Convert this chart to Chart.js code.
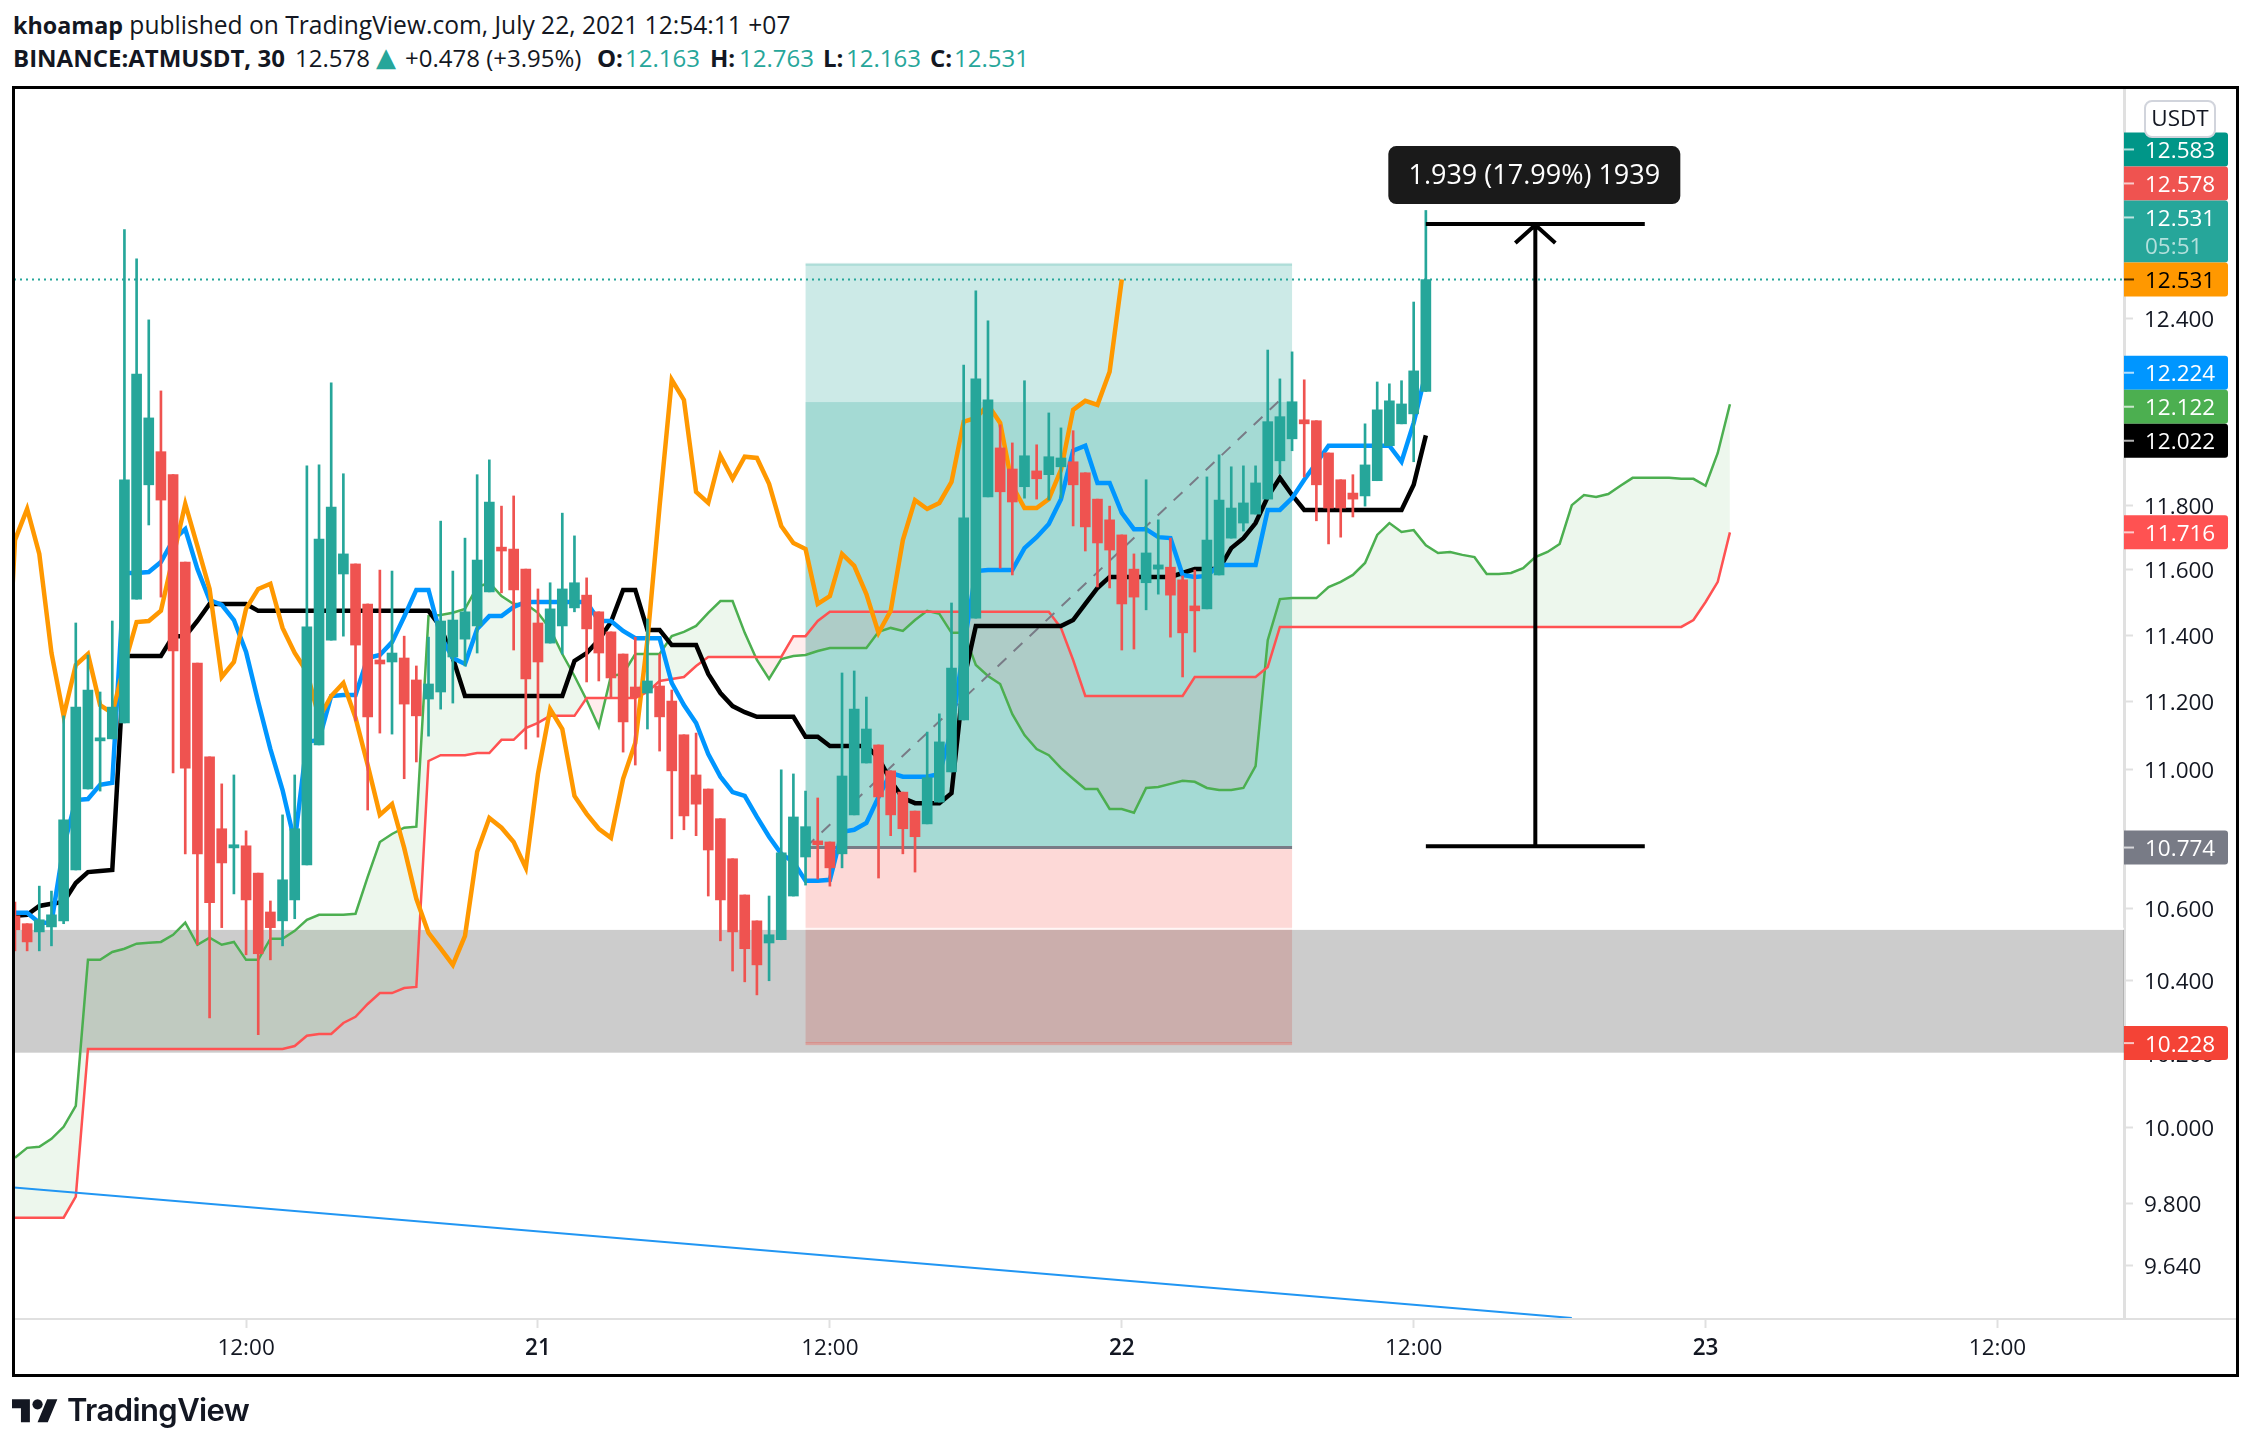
<!DOCTYPE html>
<html lang="en">
<head>
    <meta charset="UTF-8">
    <title>BINANCE:ATMUSDT, 30</title>
    <script src="https://cdn.jsdelivr.net/npm/chart.js"></script>
    <style>
        body { margin: 0; background: #fff; font-family: "Open Sans", sans-serif; color: #131722; }
        #wrap { position: relative; width: 2250px; height: 1448px; overflow: hidden; }
        #chart { position: absolute; left: 0; top: 0; }
        .title { position: absolute; font-size: 24px; line-height: 30px; white-space: nowrap; }
        .up { color: #26a69a; }
        .strong { font-weight: 700; }
        #frame { position: absolute; left: 12px; top: 86px; width: 2227px; height: 1291px; border: 3px solid #000; box-sizing: border-box; pointer-events: none; }
        #logo { position: absolute; left: 12px; top: 1394px; width: 46px; height: 36px; fill: #131722; }
        #brand { position: absolute; left: 67px; top: 1390px; font-family: Inter, sans-serif; font-weight: 600; font-size: 31px; line-height: 40px; letter-spacing: -0.6px; }
    </style>
</head>
<body>
<div id="wrap">
    <div class="title" style="top:10px;left:13px;font-size:24.6px"><b style="font-size:23.3px">khoamap</b> published on TradingView.com, July 22, 2021 12:54:11 +07</div>
    <!-- second header line, pieces placed one by one -->
    <div class="title strong" style="top:43px;left:13px">BINANCE:ATMUSDT, 30</div>
    <div class="title" style="top:43px;left:295px">12.578</div>
    <div class="title up" style="top:42px;left:376px;font-family:'DejaVu Sans';font-size:26px">▲</div>
    <div class="title" style="top:43px;left:405px">+0.478 (+3.95%)</div>
    <div class="title strong" style="top:43px;left:597px">O:</div>
    <div class="title up" style="top:43px;left:625px">12.163</div>
    <div class="title strong" style="top:43px;left:710px">H:</div>
    <div class="title up" style="top:43px;left:739px">12.763</div>
    <div class="title strong" style="top:43px;left:823px">L:</div>
    <div class="title up" style="top:43px;left:846px">12.163</div>
    <div class="title strong" style="top:43px;left:930px">C:</div>
    <div class="title up" style="top:43px;left:954px">12.531</div>
    <canvas id="chart" width="2250" height="1448"></canvas>
    <div id="frame"></div>
    <svg id="logo" viewBox="0 0 36 28"><path d="M14 22H7V11H0V4h14v18zM28 22h-8l7.5-18h8L28 22z"/><circle cx="20" cy="8" r="4"/></svg>
    <div id="brand">TradingView</div>
</div>

<script>
    // candles, one per 30 min bar
    const opens = [10.580,10.558,10.535,10.549,10.566,10.710,10.943,11.084,11.090,11.137,
        11.510,11.865,11.970,11.897,11.624,11.316,11.037,10.828,10.773,10.779,
        10.701,10.591,10.566,10.625,10.724,11.072,11.385,11.587,11.618,11.495,
        11.325,11.319,11.331,11.265,11.208,11.229,11.334,11.388,11.428,11.532,
        11.670,11.664,11.602,11.437,11.376,11.428,11.483,11.522,11.471,11.410,
        11.343,11.244,11.226,11.247,11.202,11.102,10.984,10.943,10.857,10.742,
        10.639,10.566,10.504,10.513,10.636,10.747,10.793,10.790,10.756,10.868,
        11.019,11.072,10.996,10.934,10.879,10.842,10.905,10.993,11.146,11.452,
        11.827,11.982,11.915,11.859,11.909,11.897,11.922,11.938,11.903,11.820,
        11.755,11.708,11.602,11.560,11.602,11.608,11.569,11.489,11.480,11.584,
        11.698,11.745,11.773,11.820,11.941,12.011,12.072,12.069,11.966,11.881,
        11.839,11.830,11.878,11.989,12.059,12.091,12.163];
    const highs = [10.619,10.558,10.664,10.650,11.158,11.437,11.340,11.229,11.443,12.698,
        12.600,12.397,12.165,11.897,11.624,11.316,11.037,10.958,10.984,10.822,
        10.701,10.622,10.868,10.984,11.925,11.928,12.191,11.900,11.618,11.495,
        11.599,11.596,11.397,11.307,11.394,11.751,11.596,11.698,11.897,11.944,
        11.798,11.830,11.602,11.541,11.560,11.776,11.705,11.575,11.471,11.410,
        11.343,11.394,11.449,11.343,11.235,11.102,11.107,10.943,10.857,10.742,
        10.639,10.566,10.636,10.999,10.987,10.937,10.917,10.790,11.286,11.292,
        11.214,11.072,10.996,10.934,10.879,11.110,11.164,11.498,12.249,12.493,
        12.394,12.056,11.998,12.198,11.992,12.094,12.046,12.037,11.903,11.820,
        11.798,11.708,11.649,11.881,11.755,11.698,11.581,11.599,11.890,11.960,
        11.922,11.925,11.925,12.298,12.204,12.292,12.201,12.069,11.966,11.881,
        11.897,12.059,12.194,12.188,12.198,12.456,12.763];
    const lows = [10.482,10.482,10.482,10.496,10.558,10.710,10.943,10.937,11.090,11.137,
        11.510,11.739,11.516,10.990,10.756,10.499,10.297,10.547,10.642,10.471,
        10.251,10.457,10.496,10.572,10.724,11.072,11.385,11.397,11.143,10.882,
        11.107,11.104,10.973,11.022,11.098,11.178,11.196,11.307,11.346,11.532,
        11.529,11.355,11.060,11.095,11.376,11.343,11.471,11.259,11.262,11.214,
        11.051,11.013,11.119,11.054,10.799,10.825,10.808,10.636,10.510,10.426,
        10.396,10.360,10.399,10.513,10.636,10.667,10.684,10.664,10.716,10.868,
        11.019,10.687,10.808,10.756,10.704,10.842,10.905,10.993,11.146,11.452,
        11.827,11.605,11.584,11.823,11.820,11.817,11.823,11.736,11.658,11.547,
        11.544,11.355,11.358,11.477,11.525,11.394,11.274,11.349,11.480,11.584,
        11.698,11.720,11.773,11.820,11.900,11.973,11.890,11.752,11.680,11.701,
        11.764,11.798,11.878,11.989,12.059,11.938,12.163];
    const closes = [10.541,10.507,10.569,10.583,10.854,11.184,11.235,11.093,11.184,11.881,
        12.220,12.078,11.817,11.352,11.004,10.756,10.617,10.730,10.782,10.625,
        10.474,10.547,10.682,10.828,11.425,11.695,11.795,11.649,11.370,11.155,
        11.313,11.346,11.193,11.158,11.253,11.443,11.446,11.471,11.630,11.811,
        11.658,11.538,11.268,11.319,11.480,11.541,11.560,11.419,11.346,11.271,
        11.140,11.214,11.262,11.155,10.996,10.865,10.899,10.767,10.625,10.535,
        10.488,10.443,10.527,10.759,10.862,10.834,10.782,10.716,10.981,11.178,
        11.119,10.920,10.868,10.828,10.805,10.976,11.081,11.301,11.761,12.204,
        12.136,11.843,11.811,11.957,11.884,11.954,11.950,11.865,11.733,11.683,
        11.661,11.495,11.516,11.652,11.615,11.522,11.407,11.474,11.692,11.817,
        11.792,11.808,11.871,12.066,12.082,12.130,12.059,11.865,11.792,11.792,
        11.820,11.928,12.104,12.133,12.123,12.230,12.531];

    // indicator lines
    const blueLine = [10.589,10.589,10.561,10.561,10.776,10.911,10.914,10.955,10.961,11.590,
        11.590,11.593,11.624,11.692,11.726,11.602,11.507,11.492,11.446,11.349,
        11.199,11.060,10.940,10.790,11.081,11.087,11.217,11.220,11.220,11.331,
        11.340,11.379,11.456,11.538,11.538,11.397,11.331,11.313,11.419,11.458,
        11.458,11.486,11.501,11.501,11.501,11.501,11.501,11.501,11.443,11.443,
        11.413,11.391,11.391,11.391,11.256,11.190,11.137,11.045,10.979,10.934,
        10.923,10.862,10.805,10.756,10.733,10.679,10.679,10.682,10.819,10.825,
        10.845,10.920,10.990,10.979,10.979,10.979,10.987,11.116,11.361,11.596,
        11.599,11.599,11.599,11.667,11.701,11.742,11.820,11.973,11.989,11.871,
        11.871,11.777,11.726,11.726,11.701,11.698,11.584,11.578,11.581,11.615,
        11.615,11.615,11.615,11.786,11.786,11.823,11.881,11.934,11.989,11.989,
        11.989,11.989,11.989,11.989,11.938,12.062,12.224];
    const blackLine = [10.580,10.583,10.608,10.614,10.619,10.673,10.704,10.707,10.710,11.337,
        11.337,11.337,11.337,11.397,11.397,11.443,11.495,11.495,11.495,11.495,
        11.474,11.474,11.474,11.474,11.474,11.474,11.474,11.474,11.474,11.474,
        11.474,11.474,11.474,11.474,11.474,11.425,11.331,11.217,11.217,11.217,
        11.217,11.217,11.217,11.217,11.217,11.217,11.322,11.346,11.385,11.440,
        11.538,11.538,11.416,11.416,11.370,11.370,11.370,11.283,11.226,11.187,
        11.169,11.155,11.155,11.155,11.155,11.096,11.096,11.069,11.069,11.069,
        11.069,11.034,10.967,10.917,10.902,10.902,10.902,10.931,11.262,11.428,
        11.428,11.428,11.428,11.428,11.428,11.428,11.428,11.446,11.495,11.544,
        11.578,11.578,11.578,11.578,11.578,11.578,11.590,11.602,11.602,11.602,
        11.667,11.698,11.745,11.827,11.887,11.833,11.786,11.786,11.786,11.786,
        11.786,11.786,11.786,11.786,11.786,11.865,12.022];
    // orange starts one bar left of the visible range
    const orangeLine = [10.982,11.692,11.789,11.649,11.346,11.158,11.310,11.343,11.190,11.166,11.310,
        11.440,11.443,11.474,11.639,11.805,11.673,11.541,11.274,11.319,11.480,
        11.541,11.557,11.422,11.346,11.289,11.152,11.217,11.256,11.152,11.013,
        10.868,10.899,10.773,10.628,10.532,10.488,10.443,10.524,10.762,10.859,
        10.831,10.790,10.716,10.987,11.178,11.119,10.923,10.871,10.828,10.802,
        10.973,11.078,11.385,11.798,12.201,12.136,11.843,11.808,11.957,11.884,
        11.954,11.950,11.868,11.736,11.683,11.664,11.495,11.519,11.649,11.612,
        11.525,11.407,11.474,11.692,11.817,11.789,11.808,11.874,12.066,12.078,
        12.120,12.062,11.862,11.792,11.792,11.820,11.912,12.104,12.133,12.120,
        12.227,12.531];
    const cloudGreen = [9.921,9.947,9.950,9.971,10.003,10.059,10.457,10.457,10.479,10.488,
        10.502,10.505,10.507,10.527,10.561,10.499,10.519,10.499,10.507,10.457,
        10.457,10.516,10.516,10.538,10.569,10.583,10.583,10.583,10.586,10.690,
        10.790,10.813,10.831,10.834,11.458,11.461,11.468,11.480,11.547,11.560,
        11.519,11.495,11.495,11.468,11.419,11.343,11.277,11.205,11.125,11.277,
        11.283,11.343,11.343,11.343,11.397,11.410,11.428,11.468,11.504,11.504,
        11.407,11.325,11.268,11.328,11.337,11.340,11.352,11.361,11.361,11.361,
        11.361,11.410,11.422,11.413,11.446,11.474,11.465,11.407,11.407,11.310,
        11.277,11.253,11.163,11.101,11.060,11.042,11.004,10.973,10.943,10.943,
        10.885,10.885,10.874,10.946,10.949,10.958,10.967,10.964,10.946,10.940,
        10.940,10.946,11.010,11.385,11.510,11.513,11.513,11.513,11.547,11.563,
        11.584,11.621,11.708,11.745,11.717,11.723,11.676,11.652,11.655,11.646,
        11.639,11.587,11.587,11.590,11.605,11.639,11.655,11.680,11.801,11.833,
        11.827,11.836,11.862,11.887,11.887,11.887,11.887,11.884,11.884,11.862,
        11.966,12.122];
    const cloudRed = [9.764,9.764,9.764,9.764,9.764,9.819,10.212,10.212,10.212,10.212,
        10.212,10.212,10.212,10.212,10.212,10.212,10.212,10.212,10.212,10.212,
        10.212,10.212,10.212,10.220,10.248,10.253,10.253,10.283,10.300,10.335,
        10.365,10.365,10.379,10.382,11.025,11.042,11.042,11.042,11.048,11.048,
        11.087,11.087,11.122,11.137,11.158,11.158,11.158,11.211,11.211,11.211,
        11.211,11.211,11.229,11.262,11.268,11.274,11.307,11.334,11.334,11.334,
        11.334,11.334,11.334,11.334,11.397,11.397,11.443,11.471,11.471,11.471,
        11.471,11.471,11.471,11.471,11.471,11.471,11.471,11.471,11.471,11.471,
        11.471,11.471,11.471,11.471,11.471,11.471,11.422,11.325,11.217,11.217,
        11.217,11.217,11.217,11.217,11.217,11.217,11.217,11.274,11.274,11.274,
        11.274,11.274,11.274,11.304,11.425,11.425,11.425,11.425,11.425,11.425,
        11.425,11.425,11.425,11.425,11.425,11.425,11.425,11.425,11.425,11.425,
        11.425,11.425,11.425,11.425,11.425,11.425,11.425,11.425,11.425,11.425,
        11.425,11.425,11.425,11.425,11.425,11.425,11.425,11.425,11.446,11.501,
        11.563,11.716];

    // drawings on the chart
    const trendIdx = [-1, 128];
    const trendVal = [9.845, 9.507];
    const lastPrice = 12.531;
    const zoneVal = [10.541, 10.202];
    const posIdx = [65, 105];
    const posVal = [12.583, 12.129, 10.774, 10.228];
    const posPathIdx = [65, 104, 104.6];
    const posPathVal = [10.774, 12.135, 12.129];
    const measureIdx = [116, 125, 134];
    const measureVal = [12.717, 10.778];
    const measureText = '1.939 (17.99%) 1939';

    // axes
    const priceMin = 9.5045;
    const priceMax = 13.182;
    const barMin = -0.08;
    const barMax = 173.4;
    const priceTicks = [12.4, 11.8, 11.6, 11.4, 11.2, 11.0, 10.8, 10.6, 10.4, 10.2, 10.0, 9.8, 9.64];
    const timeTicks = [19, 43, 67, 91, 115, 139, 163];
    const timeLabels = ['12:00', '21', '12:00', '22', '12:00', '23', '12:00'];

    // price scale labels, top to bottom. the orange one stays on its price, those above stack on it
    const labelVal = [12.583, 12.578, 12.531, 12.531, 12.224, 12.122, 12.022, 11.716, 10.774, 10.228];
    const labelBg = ['#009688', '#ef5350', '#26a69a', '#ff9800', '#0096ff', '#4caf50', '#000000', '#ff5252', '#787b86', '#f44336'];
    const labelFg = ['#fff', '#fff', '#fff', '#000', '#fff', '#fff', '#fff', '#fff', '#fff', '#fff'];
    const countdownLabel = 2;
    const countdownText = '05:51';
    const stackAnchor = 3;

    const UP = '#26a69a';
    const DOWN = '#ef5350';
    const FONT = '"Open Sans", sans-serif';

    function linePoints(values, start) {
        return values.map((v, i) => ({ x: i + start, y: v }));
    }

    function lineSet(values, start, color, width, extra) {
        return Object.assign({
            type: 'line',
            data: linePoints(values, start),
            borderColor: color,
            borderWidth: width,
            pointRadius: 0,
            tension: 0,
            fill: false,
            order: 5
        }, extra || {});
    }

    const candleColor = ctx => (closes[ctx.dataIndex] >= opens[ctx.dataIndex] ? UP : DOWN);

    const drawings = {
        id: 'drawings',
        beforeDraw(chart) {
            // tick text sits a touch below the mark in the original
            chart.scales.y.getLabelItems(chart.chartArea).forEach(item => {
                if (!item.shifted) { item.options.translation[1] += 2; item.shifted = true; }
            });
        },
        beforeDatasetsDraw(chart) {
            const { ctx, chartArea: a, scales: { x, y } } = chart;
            const px0 = x.getPixelForValue(posIdx[0]), px1 = x.getPixelForValue(posIdx[1]);
            const rect = (top, bottom, fill) => {
                ctx.fillStyle = fill;
                ctx.fillRect(px0, y.getPixelForValue(top), px1 - px0, y.getPixelForValue(bottom) - y.getPixelForValue(top));
            };
            ctx.save();
            // long position box
            rect(posVal[0], posVal[2], 'rgba(0,150,136,0.2)');
            rect(posVal[1], posVal[2], 'rgba(0,150,136,0.2)');
            rect(posVal[2], posVal[3], 'rgba(244,67,54,0.2)');
            // support zone
            const zt = y.getPixelForValue(zoneVal[0]), zb = y.getPixelForValue(zoneVal[1]);
            ctx.fillStyle = 'rgba(0,0,0,0.2)';
            ctx.fillRect(a.left, zt, a.right - a.left, zb - zt);
            ctx.fillStyle = 'rgba(255,255,255,0.75)';
            ctx.fillRect(a.left, zt - 2, a.right - a.left, 2);
            // box edges
            ctx.fillStyle = 'rgba(0,150,136,0.15)';
            ctx.fillRect(px0, y.getPixelForValue(posVal[0]) - 1, px1 - px0, 3);
            ctx.fillStyle = 'rgba(244,67,54,0.3)';
            ctx.fillRect(px0, y.getPixelForValue(posVal[3]) - 1, px1 - px0, 3);
            ctx.restore();
        },
        afterDatasetsDraw(chart) {
            const { ctx, scales: { x, y } } = chart;
            const mx0 = x.getPixelForValue(measureIdx[0]), mx = x.getPixelForValue(measureIdx[1]), mx1 = x.getPixelForValue(measureIdx[2]);
            const my0 = y.getPixelForValue(measureVal[0]), my1 = y.getPixelForValue(measureVal[1]);
            ctx.save();
            ctx.strokeStyle = '#000';
            ctx.lineWidth = 4;
            ctx.beginPath();
            ctx.moveTo(mx0, my0); ctx.lineTo(mx1, my0);
            ctx.moveTo(mx0, my1); ctx.lineTo(mx1, my1);
            ctx.moveTo(mx, my1); ctx.lineTo(mx, my0);
            ctx.moveTo(mx - 20, my0 + 19); ctx.lineTo(mx, my0 + 1); ctx.lineTo(mx + 20, my0 + 19);
            ctx.stroke();
            // measure label
            ctx.fillStyle = '#1a1a1a';
            ctx.beginPath();
            ctx.roundRect(mx - 147, my0 - 78, 292, 58, 8);
            ctx.fill();
            ctx.fillStyle = '#fff';
            ctx.font = '27px ' + FONT;
            ctx.textAlign = 'center';
            ctx.textBaseline = 'middle';
            ctx.fillText(measureText, mx - 1, my0 - 48);
            ctx.restore();
        },
        afterDraw(chart) {
            const { ctx, chartArea: a, scales: { y } } = chart;
            const boxW = 104, boxH = 34, twoLine = 62;
            const heights = labelVal.map((v, i) => (i === countdownLabel ? twoLine : boxH));
            const tops = labelVal.map((v, i) => y.getPixelForValue(v) - heights[i] / 2);
            for (let i = stackAnchor - 1; i >= 0; i--) tops[i] = Math.min(tops[i], tops[i + 1] - heights[i]);
            for (let i = stackAnchor + 2; i < tops.length; i++) tops[i] = Math.max(tops[i], tops[i - 1] + heights[i - 1]);
            ctx.save();
            // time axis line runs through to the frame
            ctx.fillStyle = '#e0e0e0';
            ctx.fillRect(a.left, a.bottom - 1, 2237 - a.left, 2);
            ctx.font = '22.5px ' + FONT;
            ctx.textBaseline = 'middle';
            labelVal.forEach((v, i) => {
                const cy = tops[i] + boxH / 2;
                ctx.fillStyle = labelBg[i];
                ctx.beginPath();
                ctx.roundRect(a.right, tops[i], boxW, heights[i], [0, 3, 3, 0]);
                ctx.fill();
                ctx.fillStyle = labelFg[i] === '#000' ? 'rgba(0,0,0,0.7)' : 'rgba(255,255,255,0.7)';
                ctx.fillRect(a.right, cy - 1, 10, 2);
                ctx.fillStyle = labelFg[i];
                ctx.textAlign = 'left';
                ctx.fillText(v.toFixed(3), a.right + 21, cy + 2);
                if (i === countdownLabel) {
                    ctx.fillStyle = 'rgba(255,255,255,0.65)';
                    ctx.fillText(countdownText, a.right + 21, cy + 30);
                }
            });
            // currency button
            ctx.fillStyle = '#fff';
            ctx.strokeStyle = '#d1d4dc';
            ctx.lineWidth = 2;
            ctx.beginPath();
            ctx.roundRect(a.right + 21, 101, 70, 36, 7);
            ctx.fill();
            ctx.stroke();
            ctx.fillStyle = '#131722';
            ctx.textAlign = 'center';
            ctx.fillText('USDT', a.right + 56, 120);
            ctx.restore();
        }
    };

    const datasets = [
        // cloud edges, green fills up to the red one
        lineSet(cloudGreen, 0, '#4caf50', 2.5, {
            fill: { target: 1, above: 'rgba(76,175,80,0.1)', below: 'rgba(255,82,82,0.1)' },
            order: 9
        }),
        lineSet(cloudRed, 0, '#ff5252', 2.5, { order: 8 }),
        lineSet(trendVal, 0, '#2196f3', 2, { data: trendIdx.map((b, i) => ({ x: b, y: trendVal[i] })), order: 7 }),
        lineSet([lastPrice, lastPrice], 0, UP, 2, {
            data: [{ x: barMin, y: lastPrice }, { x: barMax, y: lastPrice }],
            borderDash: [2, 4],
            order: 7
        }),
        lineSet(posPathVal, 0, '#787b86', 2, {
            data: posPathIdx.map((b, i) => ({ x: b, y: posPathVal[i] })),
            borderDash: [12, 10],
            order: 7
        }),
        lineSet([posVal[2], posVal[2]], 0, '#787b86', 3, {
            data: [{ x: posIdx[0], y: posVal[2] }, { x: posIdx[1], y: posVal[2] }],
            order: 7
        }),
        lineSet(orangeLine, -1, '#ff9800', 4.5),
        lineSet(blueLine, 0, '#0096ff', 4.5),
        lineSet(blackLine, 0, '#000000', 4.5),
        {
            type: 'bar',
            data: opens.map((o, i) => ({ x: i, y: [lows[i], highs[i]] })),
            backgroundColor: candleColor,
            barThickness: 2,
            grouped: false,
            order: 2
        },
        {
            type: 'bar',
            data: opens.map((o, i) => ({ x: i, y: [o, closes[i]] })),
            backgroundColor: candleColor,
            barThickness: 10,
            grouped: false,
            order: 1
        }
    ];

    function timeFont(ctx) {
        const isDate = ctx.tick && timeLabels[timeTicks.indexOf(ctx.tick.value)] !== '12:00';
        return { family: FONT, size: 22.5, weight: isDate ? '600' : '400' };
    }

    new Chart(document.getElementById('chart').getContext('2d'), {
        type: 'line',
        data: { datasets },
        options: {
            responsive: false,
            animation: false,
            devicePixelRatio: 1,
            layout: { padding: { left: 14, top: 89, right: 14, bottom: 74 } },
            plugins: { legend: { display: false }, tooltip: { enabled: false } },
            scales: {
                x: {
                    type: 'linear',
                    min: barMin,
                    max: barMax,
                    offset: false,
                    afterFit(scale) { scale.height = 55; },
                    afterBuildTicks(scale) { scale.ticks = timeTicks.map(v => ({ value: v })); },
                    border: { display: false },
                    grid: { display: true, offset: false, drawOnChartArea: false, drawTicks: true, tickLength: 9, tickWidth: 2, tickColor: '#e0e0e0' },
                    ticks: {
                        autoSkip: false,
                        maxRotation: 0,
                        padding: 7,
                        color: '#131722',
                        font: timeFont,
                        callback: v => timeLabels[timeTicks.indexOf(v)]
                    }
                },
                y: {
                    type: 'logarithmic',
                    position: 'right',
                    min: priceMin,
                    max: priceMax,
                    afterFit(scale) { scale.width = 112; },
                    afterBuildTicks(scale) { scale.ticks = priceTicks.map(v => ({ value: v })); },
                    border: { display: true, color: '#e0e0e0', width: 3 },
                    grid: { display: true, drawOnChartArea: false, drawTicks: true, tickLength: 9, tickWidth: 2, tickColor: '#e0e0e0' },
                    ticks: {
                        autoSkip: false,
                        padding: 11,
                        color: '#131722',
                        font: { family: FONT, size: 22.5 },
                        callback: v => v.toFixed(3)
                    }
                }
            }
        },
        plugins: [drawings]
    });
</script>
</body>
</html>
